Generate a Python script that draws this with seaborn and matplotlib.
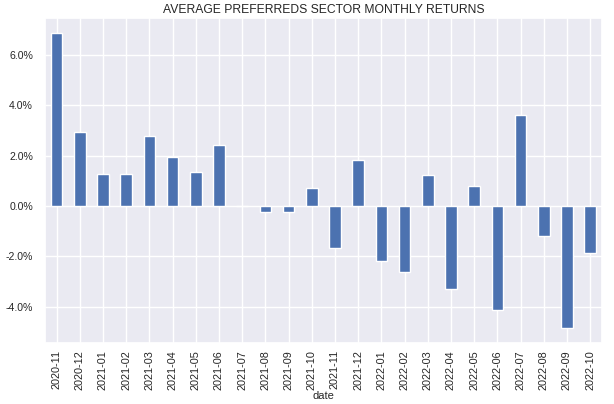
import matplotlib
matplotlib.use('Agg')
import matplotlib.pyplot as plt
import seaborn as sns
import pandas as pd
from matplotlib.ticker import PercentFormatter

# data (monthly returns, %)
dates = ['2020-11', '2020-12', '2021-01', '2021-02', '2021-03', '2021-04',
         '2021-05', '2021-06', '2021-07', '2021-08', '2021-09', '2021-10',
         '2021-11', '2021-12', '2022-01', '2022-02', '2022-03', '2022-04',
         '2022-05', '2022-06', '2022-07', '2022-08', '2022-09', '2022-10']
returns = [6.89, 2.95, 1.27, 1.27, 2.79, 1.95,
           1.35, 2.43, 0.0, -0.25, -0.25, 0.73,
           -1.69, 1.81, -2.20, -2.62, 1.25, -3.32,
           0.78, -4.12, 3.63, -1.21, -4.87, -1.86]

df = pd.DataFrame({'date': dates, 'ret': returns})

sns.set_theme(style='darkgrid')
plt.rcParams['font.family'] = ['Liberation Sans', 'DejaVu Sans']
plt.rcParams['axes.unicode_minus'] = False

fig, ax = plt.subplots(figsize=(6.14, 4.04), dpi=100)
sns.barplot(data=df, x='date', y='ret', color='#4c72b0', saturation=1,
            width=0.5, edgecolor='white', linewidth=1, ax=ax)

ax.set_title('AVERAGE PREFERREDS SECTOR MONTHLY RETURNS', fontsize=8.7, pad=4)
ax.set_xlabel('date', fontsize=8, labelpad=1)
ax.set_ylabel('')
ax.yaxis.set_major_formatter(PercentFormatter(decimals=1))
# tick length 0 so the pad alone sets the label offset
ax.tick_params(axis='x', labelrotation=90, labelsize=7.8, length=0, pad=5)
ax.tick_params(axis='y', labelsize=7.6, length=0, pad=8.6)
ax.set_ylim(-5.45, 7.47)
ax.grid(True, axis='both')

fig.subplots_adjust(left=0.0733, right=0.980, top=0.955, bottom=0.151)
fig.savefig('out.png', dpi=100)
